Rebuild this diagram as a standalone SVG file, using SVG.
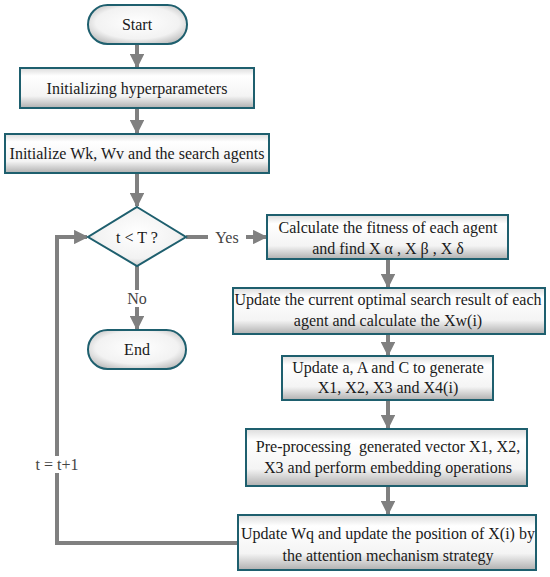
<svg xmlns="http://www.w3.org/2000/svg" width="550" height="577" viewBox="0 0 550 577">
<defs>
<linearGradient id="g" x1="0" y1="0" x2="0" y2="1">
<stop offset="0" stop-color="#dcdcdc"/>
<stop offset="0.2" stop-color="#ffffff"/>
<stop offset="0.7" stop-color="#f4f4f4"/>
<stop offset="1" stop-color="#b0b0b0"/>
</linearGradient>
<radialGradient id="rg" cx="0.5" cy="0.45" r="0.7">
<stop offset="0" stop-color="#ffffff"/>
<stop offset="0.6" stop-color="#f2f2f2"/>
<stop offset="1" stop-color="#a8a8a8"/>
</radialGradient>
<marker id="ah" viewBox="0 0 10 10" refX="9" refY="5" markerWidth="3.6" markerHeight="3.6" orient="auto" markerUnits="strokeWidth">
<path d="M0,0 L10,5 L0,10 z" fill="#808080"/>
</marker>
</defs>
<style>
.box{fill:url(#g);stroke:#1e5f6e;stroke-width:2}
.term{fill:url(#rg);stroke:#1e5f6e;stroke-width:2}
.t{font-family:"Liberation Serif","Times New Roman",serif;font-size:16px;fill:#1a1a1a;text-anchor:middle}
.lbl{font-family:"Liberation Serif","Times New Roman",serif;font-size:16px;fill:#444;text-anchor:middle}
.c{fill:none;stroke:#808080;stroke-width:4}
</style>
<rect width="550" height="577" fill="#fff"/>
<g id="connectors">
<line class="c" x1="137" y1="44" x2="137" y2="67" marker-end="url(#ah)"/>
<line class="c" x1="137" y1="108" x2="137" y2="133" marker-end="url(#ah)"/>
<line class="c" x1="137" y1="173" x2="137" y2="206" marker-end="url(#ah)"/>
<line class="c" x1="186" y1="237" x2="266" y2="237" marker-end="url(#ah)"/>
<line class="c" x1="137" y1="266" x2="137" y2="329" marker-end="url(#ah)"/>
<line class="c" x1="388" y1="259" x2="388" y2="287" marker-end="url(#ah)"/>
<line class="c" x1="388" y1="334" x2="388" y2="355" marker-end="url(#ah)"/>
<line class="c" x1="388" y1="400" x2="388" y2="428" marker-end="url(#ah)"/>
<line class="c" x1="388" y1="486" x2="388" y2="514" marker-end="url(#ah)"/>
<polyline class="c" points="238,543 57,543 57,237 87,237" marker-end="url(#ah)"/>
<rect x="208" y="229" width="38" height="17" fill="#fff"/>
<text class="lbl" x="227" y="243">Yes</text>
<rect x="124" y="290" width="26" height="17" fill="#fff"/>
<text class="lbl" x="137" y="304">No</text>
<rect x="34" y="456" width="48" height="17" fill="#fff"/>
<text class="lbl" x="57" y="470">t = t+1</text>
</g>
<g id="start">
<rect class="term" x="88" y="5" width="99" height="39" rx="19.5"/>
<text class="t" x="137" y="30">Start</text>
</g>
<g id="init-hyper">
<rect class="box" x="20" y="68" width="234" height="40"/>
<text class="t" x="137" y="94">Initializing hyperparameters</text>
</g>
<g id="init-w">
<rect class="box" x="5" y="134" width="264" height="39"/>
<text class="t" x="137" y="159">Initialize Wk, Wv and the search agents</text>
</g>
<g id="decision">
<polygon class="term" points="137,207 186,237 137,266 88,237"/>
<text class="t" x="137" y="243">t &lt; T ?</text>
</g>
<g id="end">
<rect class="term" x="88" y="330" width="98" height="39" rx="19.5"/>
<text class="t" x="137" y="355">End</text>
</g>
<g id="fitness">
<rect class="box" x="267" y="215" width="241" height="44"/>
<text class="t" x="388" y="233">Calculate the fitness of each agent</text>
<text class="t" x="388" y="254">and find X α , X β , X δ</text>
</g>
<g id="update-opt">
<rect class="box" x="233" y="288" width="312" height="46"/>
<text class="t" x="388" y="305">Update the current optimal search result of each</text>
<text class="t" x="388" y="326">agent and calculate the Xw(i)</text>
</g>
<g id="update-aac">
<rect class="box" x="282" y="356" width="211" height="44"/>
<text class="t" x="388" y="373">Update a, A and C to generate</text>
<text class="t" x="388" y="393">X1, X2, X3 and X4(i)</text>
</g>
<g id="preprocess">
<rect class="box" x="246" y="429" width="281" height="57"/>
<text class="t" x="388" y="452" xml:space="preserve">Pre-processing  generated vector X1, X2,</text>
<text class="t" x="388" y="473">X3 and perform embedding operations</text>
</g>
<g id="update-wq">
<rect class="box" x="238" y="515" width="298" height="55"/>
<text class="t" x="388" y="539">Update Wq and update the position of X(i) by</text>
<text class="t" x="388" y="561">the attention mechanism strategy</text>
</g>
</svg>
